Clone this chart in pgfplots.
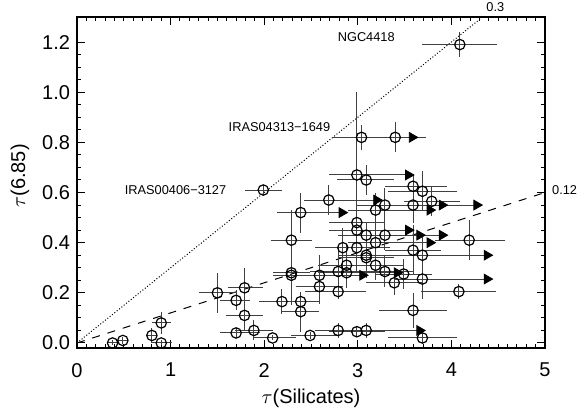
\documentclass[border=0pt]{standalone}
\usepackage{fontspec}
\setmainfont{Liberation Sans}
\usepackage{pgfplots}
\usepackage{pgfplotstable}
\pgfplotsset{compat=1.18}

% x y x-err(minus) x-err(plus) y-err
\pgfplotstableread{
x y xm xp ey
0.38 0.00 0.06 0.06 0.010
0.49 0.01 0.05 0.05 0.015
0.80 0.03 0.06 0.06 0.030
0.90 0.08 0.10 0.10 0.045
0.90 0.00 0.10 0.12 0.010
1.50 0.20 0.20 0.20 0.080
1.70 0.17 0.17 0.15 0.040
1.79 0.22 0.18 0.20 0.080
1.79 0.11 0.20 0.20 0.060
1.70 0.04 0.17 0.25 0.020
1.89 0.05 0.20 0.20 0.040
2.09 0.02 0.20 0.25 0.010
2.49 0.03 0.20 0.30 0.015
2.79 0.05 0.25 0.25 0.030
2.99 0.045 0.30 0.30 0.020
3.09 0.05 0.30 0.57 0.030
3.69 0.02 0.37 0.37 0.020
1.99 0.61 0.20 0.20 0.020
2.19 0.165 0.25 0.25 0.050
2.39 0.165 0.20 0.20 0.040
2.39 0.125 0.20 0.20 0.080
2.29 0.41 0.22 0.22 0.120
2.29 0.28 0.20 0.20 0.130
2.29 0.27 0.20 0.76 0.050
2.39 0.52 0.25 0.44 0.080
2.59 0.27 0.30 0.30 0.080
2.59 0.225 0.25 0.25 0.070
2.69 0.57 0.27 0.51 0.060
2.79 0.205 0.35 0.30 0.030
2.79 0.285 0.30 0.30 0.100
2.84 0.38 0.30 0.30 0.080
2.88 0.28 0.30 0.54 0.060
2.88 0.31 0.30 0.30 0.080
2.99 0.67 0.30 0.55 0.330
2.99 0.48 0.30 0.30 0.060
2.99 0.45 0.30 0.55 0.050
2.99 0.38 0.35 0.35 0.100
3.04 0.82 0.31 0.31 0.050
3.09 0.65 0.31 0.30 0.060
3.09 0.43 0.30 0.57 0.050
3.09 0.35 0.30 0.30 0.060
3.09 0.34 0.30 0.30 0.080
3.19 0.53 0.30 0.58 0.070
3.19 0.40 0.30 0.58 0.060
3.19 0.31 0.30 0.30 0.060
3.29 0.55 0.30 0.61 0.070
3.29 0.43 0.30 0.61 0.060
3.29 0.285 0.30 0.30 0.060
3.39 0.24 0.30 0.30 0.050
3.40 0.82 0.33 0.33 0.060
3.49 0.275 0.30 0.30 0.060
3.59 0.625 0.30 0.36 0.050
3.59 0.55 0.30 0.68 0.070
3.59 0.37 0.30 0.30 0.100
3.59 0.13 0.36 0.36 0.070
3.69 0.605 0.37 0.37 0.080
3.69 0.35 0.30 0.69 0.080
3.69 0.255 0.30 0.69 0.080
3.79 0.565 0.30 0.30 0.060
4.08 0.205 0.40 0.40 0.030
4.19 0.41 0.37 0.38 0.080
4.09 1.19 0.40 0.40 0.050
}\objects

% arrow heads of the lower limits
\pgfplotstableread{
x y
3.58 0.82
3.54 0.67
3.20 0.57
3.90 0.55
4.27 0.55
3.77 0.53
2.83 0.52
3.54 0.45
3.66 0.43
3.90 0.43
3.77 0.40
4.38 0.35
3.42 0.28
3.05 0.27
4.38 0.255
3.66 0.05
}\limits

\begin{document}
\begin{tikzpicture}
\begin{axis}[
    name=ax,
    at={(0,0)}, anchor=south west,
    scale only axis,
    width=234pt, height=165.5pt,
    xmin=0, xmax=5, ymin=-0.02, ymax=1.3,
    xtick={0,1,2,3,4,5},
    ytick={0,0.2,0.4,0.6,0.8,1.0,1.2},
    minor x tick num=9,
    minor y tick num=3,
    tick pos=both,
    tick align=inside,
    major tick length=4pt,
    minor tick length=2pt,
    every tick/.style={black, line width=0.5pt},
    axis line style={line width=0.6pt},
    /pgf/number format/assume math mode=true,
    ticklabel style={font=\fontsize{10}{12}\selectfont},
    xticklabel style={yshift=-4pt},
    yticklabel style={/pgf/number format/.cd, fixed, fixed zerofill, precision=1},
    label style={font=\fontsize{10}{12}\selectfont},
    xlabel={$\tau$(Silicates)},
    ylabel={$\tau$(6.85)},
    xlabel style={at={(axis description cs:0.5,-0.151)}, anchor=center},
    ylabel style={at={(axis description cs:-0.122,0.52)}, anchor=center},
    clip=false,
]
\addplot[densely dotted, line width=0.5pt] coordinates {(0,0) (4.333,1.3)};
\addplot[dash pattern=on 4pt off 4pt, line width=0.5pt] coordinates {(0,0) (5,0.6)};

\addplot[only marks, mark=o, mark size=2.6pt,
    mark options={line width=0.6pt, black},
    error bars/.cd,
      x dir=both, x explicit,
      y dir=both, y explicit,
      error mark=none,
      error bar style={line width=0.5pt, black!75}]
  table[x=x, y=y, x error minus=xm, x error plus=xp, y error=ey] {\objects};

\addplot[only marks, mark=triangle*, mark size=2.8pt,
    mark options={rotate=-90, black, fill=black}]
  table[x=x, y=y] {\limits};

\node[anchor=east, font=\fontsize{6.4}{7}\selectfont] at (axis cs:3.47,1.22) {NGC4418};
\node[anchor=east, font=\fontsize{6.4}{7}\selectfont] at (axis cs:2.78,0.86) {IRAS04313−1649};
\node[anchor=east, font=\fontsize{6.4}{7}\selectfont] at (axis cs:1.67,0.61) {IRAS00406−3127};
\node[font=\fontsize{6.4}{7}\selectfont] at (axis cs:4.47,1.34) {0.3};
\node[font=\fontsize{6.4}{7}\selectfont] at (axis cs:5.21,0.61) {0.12};
\end{axis}
\pgfresetboundingbox
\path[use as bounding box] ([shift={(-38.5pt,-31pt)}]ax.south west)
  rectangle ([shift={(18pt,8.5pt)}]ax.north east);
\end{tikzpicture}
\end{document}
